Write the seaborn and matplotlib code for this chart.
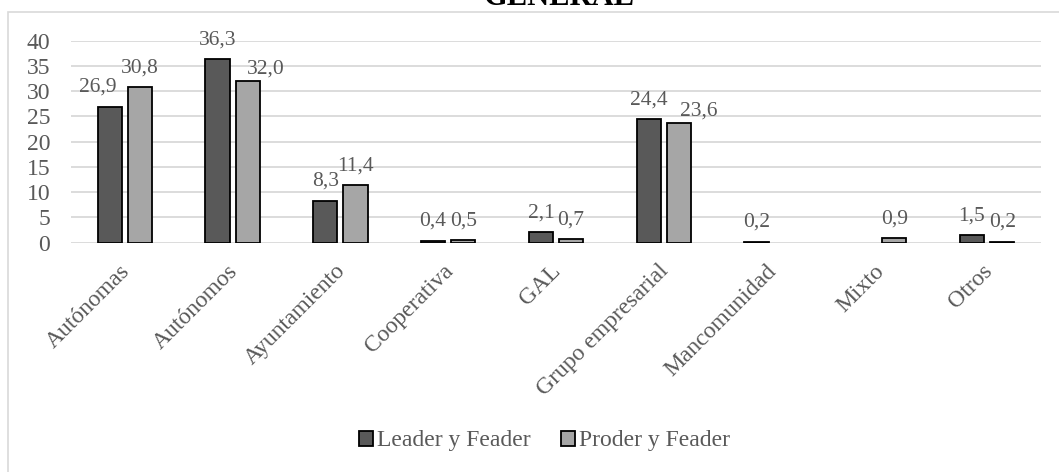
import matplotlib
matplotlib.use("Agg")
import matplotlib.pyplot as plt
import matplotlib.transforms as mtransforms
from matplotlib.patches import Rectangle
import numpy as np
import pandas as pd
import seaborn as sns

categories = ["Autónomas", "Autónomos", "Ayuntamiento", "Cooperativa", "GAL",
              "Grupo empresarial", "Mancomunidad", "Mixto", "Otros"]
leader = [26.9, 36.3, 8.3, 0.4, 2.1, 24.4, 0.2, np.nan, 1.5]
proder = [30.8, 32.0, 11.4, 0.5, 0.7, 23.6, np.nan, 0.9, 0.2]
series_names = ["Leader y Feader", "Proder y Feader"]
yticks = [0, 5, 10, 15, 20, 25, 30, 35, 40]

df = pd.DataFrame({
    "categoria": categories * 2,
    "serie": [series_names[0]] * len(categories) + [series_names[1]] * len(categories),
    "valor": leader + proder,
})

sns.set_theme(style="white")
plt.rcParams["font.family"] = ["Liberation Serif", "DejaVu Serif"]
text_color = "#595959"

fig = plt.figure(figsize=(10.59, 4.72), dpi=100)
ax = fig.add_axes([0.067, 0.486, 0.916, 0.428])

sns.barplot(data=df, x="categoria", y="valor", hue="serie", order=categories,
            hue_order=series_names, palette=["#595959", "#a6a6a6"],
            width=0.56, gap=0.2, edgecolor="black", linewidth=1.3,
            legend=True, ax=ax)

ax.set_ylim(0, 40)
ax.set_yticks(yticks)
ax.set_xlim(-0.5, len(categories) - 0.5)
ax.grid(axis="y", color="#d9d9d9", linewidth=1.3)
ax.set_axisbelow(True)
for s in ax.spines.values():
    s.set_visible(False)
ax.tick_params(axis="both", length=0, colors=text_color)
ax.tick_params(axis="y", labelsize=17, pad=15)
ax.set_xlabel("")
ax.set_ylabel("")

ax.tick_params(axis="x", labelsize=17, pad=13)
offset = mtransforms.ScaledTranslation(-4 / 72, 0, fig.dpi_scale_trans)
for lab in ax.get_xticklabels():
    lab.set_rotation(45)
    lab.set_ha("right")
    lab.set_va("top")
    lab.set_rotation_mode("anchor")
    lab.set_color(text_color)
    lab.set_transform(lab.get_transform() + offset)

fmt = lambda v: f"{v:.1f}".replace(".", ",")
pad = 7
for cont in ax.containers:
    ax.bar_label(cont, fmt=fmt, padding=pad, fontsize=15.5, color=text_color)

# labels moved aside where they would collide (pixel offsets)
shifts = {"26,9": (-12, 0), "32,0": (18, -7), "23,6": (20, -7)}
for t in ax.texts:
    if t.get_text() in shifts:
        dx, dy = shifts[t.get_text()]
        t.set_position((dx * 0.72, pad + dy * 0.72))

ax.legend(loc="center", bbox_to_anchor=(0.514, 0.066), bbox_transform=fig.transFigure,
          ncol=2, frameon=False, fontsize=17, handlelength=0.6, handleheight=0.6,
          handletextpad=0.15, columnspacing=1.3, labelcolor=text_color)
for h in ax.get_legend().legend_handles:
    h.set_edgecolor("black")
    h.set_linewidth(1.3)

fig.patches.append(Rectangle((0.0075, -0.1), 1.2, 1.075, transform=fig.transFigure,
                             fill=False, edgecolor="#d9d9d9", linewidth=1.2))
fig.text(0.528, 0.989, "GENERAL", ha="center", va="baseline", fontsize=22,
         fontweight="bold", color="black")

fig.savefig("out.png", dpi=100)
